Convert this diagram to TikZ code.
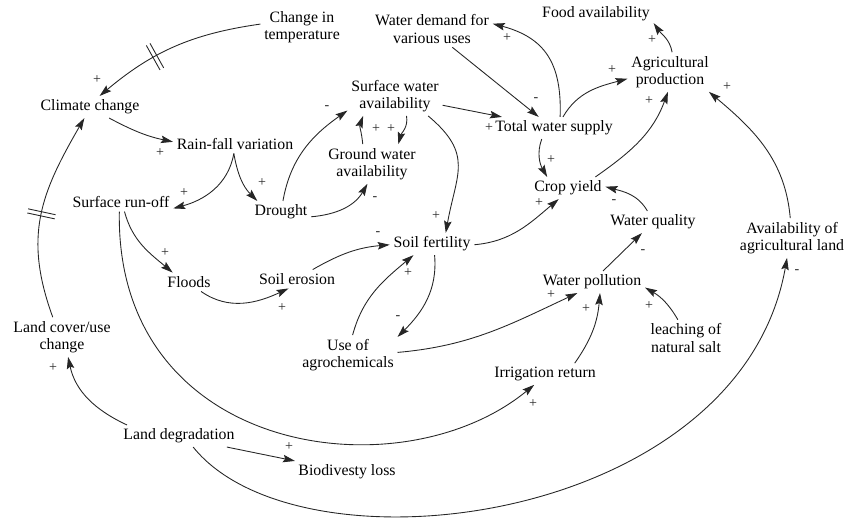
\documentclass[tikz,border=0pt]{standalone}
\usepackage{fontspec}
\setmainfont{Liberation Serif}
\usetikzlibrary{arrows.meta}
\usetikzlibrary{decorations.markings}

\tikzset{
  var/.style={align=center,inner sep=2pt,font=\rmfamily\fontsize{9}{10}\selectfont},
  pol/.style={inner sep=0pt,font=\rmfamily\fontsize{8}{8}\selectfont,text=black!85},
  link/.style={draw=black!85,line width=0.5pt,-{Stealth[length=2.4mm,width=1.5mm,inset=0.4mm]}},
  delay/.style={postaction={decorate,decoration={markings,mark=at position #1 with {\draw[-,line width=0.5pt] (-1.2pt,-8pt) -- (-1.2pt,8pt) (1.2pt,-8pt) -- (1.2pt,8pt);}}}}
}

\begin{document}
\begin{tikzpicture}[x=0.02cm,y=-0.02cm]
  \useasboundingbox (0,0) rectangle (854,518);
  \node[var] (temp) at (302,27) {Change in\\temperature};
  \node[var] (wdem) at (432,29) {Water demand for\\various uses};
  \node[var] (food) at (596,14) {Food availability};
  \node[var] (agri) at (670,72) {Agricultural\\production};
  \node[var] (cc) at (90,107) {Climate change};
  \node[var] (rain) at (235,144) {Rain-fall variation};
  \node[var] (swa) at (395,96) {Surface water\\availability};
  \node[var] (gwa) at (372,164) {Ground water\\availability};
  \node[var] (tws) at (554,128) {Total water supply};
  \node[var] (crop) at (568,188) {Crop yield};
  \node[var] (runoff) at (121,202) {Surface run-off};
  \node[var] (drought) at (281,212) {Drought};
  \node[var] (wq) at (653,222) {Water quality};
  \node[var] (aal) at (792,238) {Availability of\\agricultural land};
  \node[var] (soil) at (432,244) {Soil fertility};
  \node[var] (floods) at (189,282) {Floods};
  \node[var] (erosion) at (297,279) {Soil erosion};
  \node[var] (wpoll) at (592,282) {Water pollution};
  \node[var] (lcuc) at (62,337) {Land cover/use\\change};
  \node[var] (agro) at (348,355) {Use of\\agrochemicals};
  \node[var] (leach) at (686,338) {leaching of\\natural salt};
  \node[var] (irr) at (545,374) {Irrigation return};
  \node[var] (ldeg) at (179,436) {Land degradation};
  \node[var] (biod) at (347,472) {Biodivesty loss};

  \draw[link,delay=0.62] (temp.176) to[out=188,in=40] (cc.49);
  \draw[link] (cc.-30) to[out=-28,in=168] (rain.178);
  \draw[link] (rain.-97) to[out=-100,in=15] (runoff.-7);
  \draw[link] (rain.-97) to[out=-80,in=135] (drought.155);
  \draw[link] (drought.80) to[out=80,in=215] (swa.197);
  \draw[link] (drought.-9) to[out=5,in=240] (gwa.-103);
  \draw[link] (gwa.115) to[out=95,in=250] (swa.212);
  \draw[link] (swa.-60) to[out=-80,in=75] (gwa.37);
  \draw[link] (swa.-11) -- (tws.168);
  \draw[link] (swa.-31) to[out=-40,in=80,looseness=1.3] (soil.39);
  \draw[link] (wdem.-42) -- (tws.144);
  \draw[link] (tws.61) to[out=88,in=-15,looseness=1.2] (wdem.5);
  \draw[link] (tws.51) to[out=60,in=195] (agri.189);
  \draw[link] (tws.-138) to[out=-110,in=120] (crop.152);
  \draw[link] (agri.84) to[out=100,in=-55] (food.-9);
  \draw[link] (crop.22) to[out=35,in=250] (agri.-96);
  \draw[link] (aal.95) to[out=95,in=-40] (agri.-27);
  \draw[link] (wq.117) to[out=120,in=-15] (crop.2);
  \draw[link] (soil.-1) to[out=5,in=220] (crop.-130);
  \draw[link] (erosion.31) to[out=30,in=185] (soil.181);
  \draw[link] (agro.77) to[out=75,in=220] (soil.-149);
  \draw[link] (soil.-77) to[out=-85,in=45] (agro.20);
  \draw[link] (agro.3) to[out=5,in=205] (wpoll.-143);
  \draw[link] (irr.20) to[out=55,in=265] (wpoll.-54);
  \draw[link] (leach.114) to[out=120,in=-30] (wpoll.-6);
  \draw[link] (wpoll.45) -- (wq.-135);
  \draw[link] (runoff.-70) to[out=-75,in=140] (floods.150);
  \draw[link] (floods.-38) to[out=-35,in=205] (erosion.-132);
  \draw[link] (runoff.-100) .. controls (115,455) and (400,495) .. (irr.-135);
  \draw[link] (ldeg.168) to[out=155,in=-78] (lcuc.-73);
  \draw[link,delay=0.5] (lcuc.115) to[out=110,in=-120,looseness=1.1] (cc.-117);
  \draw[link] (ldeg.-13) -- (biod.168);
  \draw[link] (ldeg.-38) .. controls (300,580) and (740,525) .. (aal.-104);

  \node[pol] (p1) at (97,80) {+};
  \node[pol] (p2) at (160,153) {+};
  \node[pol] (p3) at (184,193) {+};
  \node[pol] (p4) at (262,183) {+};
  \node[pol] (p5) at (327,108) {-};
  \node[pol] (p6) at (375,199) {-};
  \node[pol] (p7) at (376,129) {+};
  \node[pol] (p8) at (391,129) {+};
  \node[pol] (p9) at (489,128) {+};
  \node[pol] (p10) at (436,216) {+};
  \node[pol] (p11) at (536,100) {-};
  \node[pol] (p12) at (507,38) {+};
  \node[pol] (p13) at (612,70) {+};
  \node[pol] (p14) at (551,160) {+};
  \node[pol] (p15) at (652,40) {+};
  \node[pol] (p16) at (649,101) {+};
  \node[pol] (p17) at (727,87) {+};
  \node[pol] (p18) at (614,202) {-};
  \node[pol] (p19) at (539,203) {+};
  \node[pol] (p20) at (378,234) {-};
  \node[pol] (p21) at (408,273) {+};
  \node[pol] (p22) at (398,318) {-};
  \node[pol] (p23) at (551,295) {+};
  \node[pol] (p24) at (586,309) {+};
  \node[pol] (p25) at (649,306) {+};
  \node[pol] (p26) at (643,252) {-};
  \node[pol] (p27) at (165,253) {+};
  \node[pol] (p28) at (282,308) {+};
  \node[pol] (p29) at (533,404) {+};
  \node[pol] (p30) at (53,368) {+};
  \node[pol] (p32) at (289,447) {+};
  \node[pol] (p33) at (797,272) {-};
\end{tikzpicture}
\end{document}
